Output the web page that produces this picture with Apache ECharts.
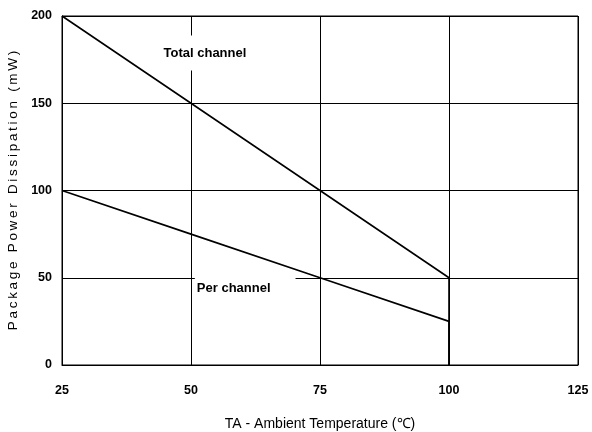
<!DOCTYPE html>
<html><head><meta charset="utf-8">
<script src="https://cdn.jsdelivr.net/npm/echarts@6/dist/echarts.min.js"></script>
<style>html,body{margin:0;padding:0;background:#fff}#c{width:592px;height:432px}</style>
</head><body><div id="c"></div>
<script>
var xTicks = [25, 50, 75, 100, 125];
var yTicks = [0, 50, 100, 150, 200];
var totalChannel = [[25, 200], [50, 150], [75, 100], [100, 50], [100, 0]];
var perChannel = [[25, 100], [50, 75], [75, 50], [100, 25], [100, 0]];
var labelTotal = {name: 'Total channel', coord: [52.7, 178.8]};
var labelPer = {name: 'Per channel', coord: [60.5, 43.8]};
var yName = 'Package Power Dissipation (mW)';
var xName = 'TA - Ambient Temperature (\u2103)';

var chart = echarts.init(document.getElementById('c'));
var font = 'Liberation Sans, Arial, sans-serif';
function mp(lbl, pad) {
  return {
    symbol: 'rect', symbolSize: 0, silent: true,
    data: [{coord: lbl.coord, value: lbl.name}],
    label: {show: true, position: 'inside', formatter: lbl.name, color: '#000',
      fontFamily: font, fontWeight: 'bold', fontSize: 13,
      backgroundColor: '#fff', padding: pad}
  };
}
chart.setOption({
  animation: false,
  grid: {left: 62, top: 16, right: 14, bottom: 67, containLabel: false, outerBoundsMode: 'none',
    show: true, borderColor: '#000', borderWidth: 1},
  xAxis: {
    type: 'value', min: xTicks[0], max: xTicks[xTicks.length - 1], interval: 25,
    name: xName, nameLocation: 'middle', nameGap: 52,
    nameTextStyle: {fontFamily: font, fontSize: 14, color: '#000'},
    axisLine: {show: true, lineStyle: {color: '#000'}}, axisTick: {show: false},
    axisLabel: {margin: 19, fontFamily: font, fontWeight: 'bold', fontSize: 12.5, color: '#000'},
    splitLine: {show: true, lineStyle: {color: '#000', width: 1}}
  },
  yAxis: {
    type: 'value', min: yTicks[0], max: yTicks[yTicks.length - 1], interval: 50,
    name: yName.split('').join('\u2009'), nameLocation: 'middle', nameGap: 29,
    nameTextStyle: {fontFamily: font, fontSize: 13.5, color: '#000'},
    axisLine: {show: true, lineStyle: {color: '#000'}}, axisTick: {show: false},
    axisLabel: {margin: 10, fontFamily: font, fontWeight: 'bold', fontSize: 12.5, color: '#000'},
    splitLine: {show: true, lineStyle: {color: '#000', width: 1}}
  },
  series: [
    {type: 'line', data: totalChannel, symbol: 'none', lineStyle: {color: '#000', width: 1.6},
      markPoint: mp(labelTotal, [5, 3, 17, 3]), z: 3},
    {type: 'line', data: perChannel, symbol: 'none', lineStyle: {color: '#000', width: 1.6},
      markPoint: mp(labelPer, [8, 25, 3, 2]), z: 3}
  ]
});
</script></body></html>
